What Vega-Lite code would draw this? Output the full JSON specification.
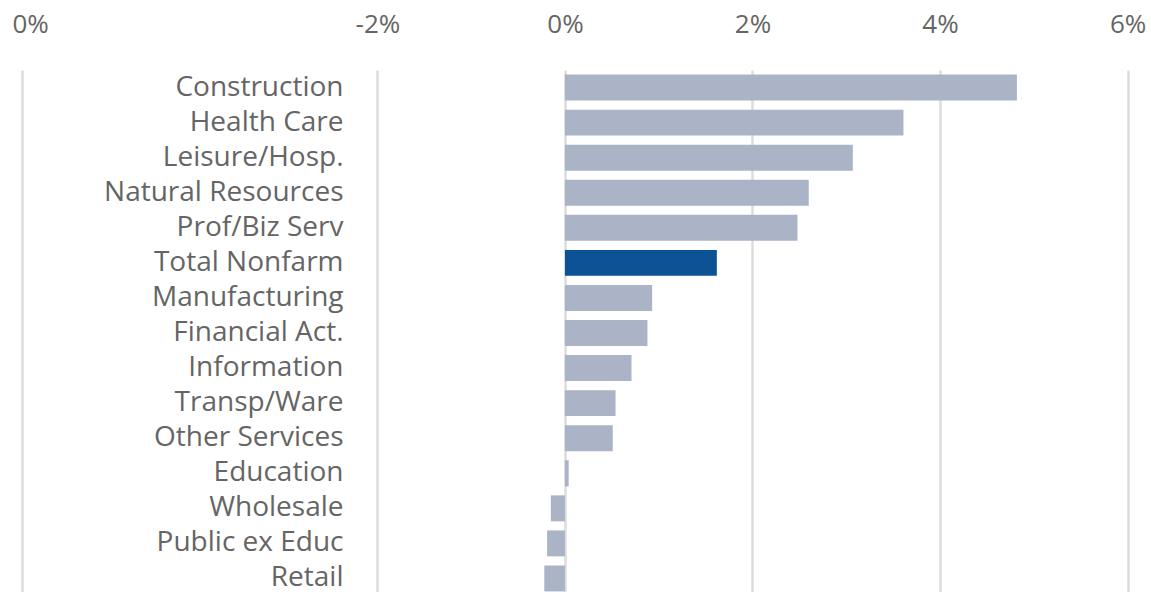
{
  "$schema": "https://vega.github.io/schema/vega-lite/v6.json",
  "autosize": {"type": "none"},
  "padding": {"left": 22, "top": 70, "right": 0, "bottom": 0},
  "width": 1129,
  "height": 526,
  "background": "white",
  "config": {"view": {"stroke": null}},
  "data": {
    "values": [
      {"industry": "Construction", "change": 0.0482},
      {"industry": "Health Care", "change": 0.0361},
      {"industry": "Leisure/Hosp.", "change": 0.0307},
      {"industry": "Natural Resources", "change": 0.0260},
      {"industry": "Prof/Biz Serv", "change": 0.0248},
      {"industry": "Total Nonfarm", "change": 0.0162},
      {"industry": "Manufacturing", "change": 0.0093},
      {"industry": "Financial Act.", "change": 0.0088},
      {"industry": "Information", "change": 0.0071},
      {"industry": "Transp/Ware", "change": 0.0054},
      {"industry": "Other Services", "change": 0.0051},
      {"industry": "Education", "change": 0.0004},
      {"industry": "Wholesale", "change": -0.0015},
      {"industry": "Public ex Educ", "change": -0.0019},
      {"industry": "Retail", "change": -0.0022}
    ]
  },
  "mark": {"type": "bar"},
  "encoding": {
    "y": {
      "field": "industry",
      "type": "nominal",
      "sort": null,
      "scale": {"paddingInner": 0.26, "paddingOuter": 0.13},
      "axis": {
        "title": null,
        "domain": false,
        "ticks": false,
        "tickSize": 0,
        "labelPadding": 0,
        "offset": -321,
        "labelAlign": "right",
        "labelBaseline": "middle",
        "labelFont": "Open Sans",
        "labelFontSize": 28,
        "labelColor": "#656565",
        "labelLimit": 500
      }
    },
    "x": {
      "field": "change",
      "type": "quantitative",
      "scale": {"domain": [-0.0579, 0.0625], "nice": false, "zero": false},
      "axis": {
        "orient": "top",
        "title": null,
        "values": [-0.0579, -0.02, 0, 0.02, 0.04, 0.06],
        "labelExpr": "datum.value < -0.03 ? '0%' : replace(format(datum.value, '.0%'), '\u2212', '-')",
        "domain": false,
        "ticks": false,
        "tickSize": 0,
        "labelPadding": 46,
        "labelBaseline": "middle",
        "labelFlush": true,
        "labelFlushOffset": 10,
        "labelFont": "Open Sans",
        "labelFontSize": 26,
        "labelColor": "#656565",
        "grid": true,
        "gridColor": "#dcdcdc",
        "gridWidth": 2.5
      }
    },
    "color": {
      "condition": {"test": "datum.industry === 'Total Nonfarm'", "value": "#0B5394"},
      "value": "#AAB4C6"
    }
  }
}
